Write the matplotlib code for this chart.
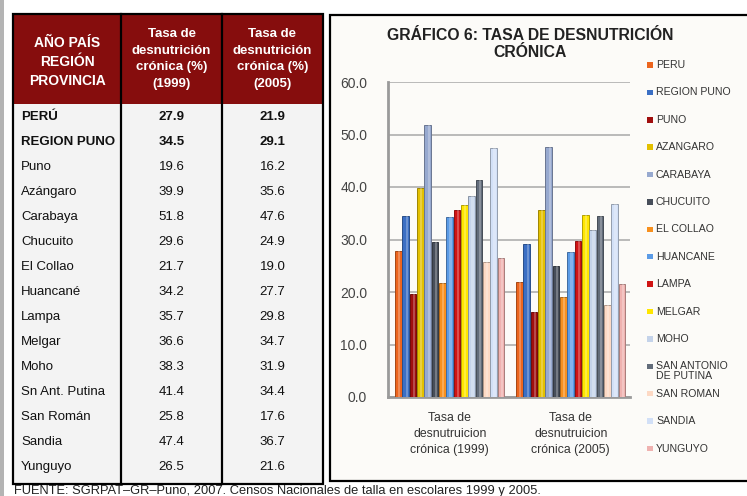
import numpy as np
import matplotlib
matplotlib.use("Agg")
from matplotlib import pyplot as plt
from matplotlib.patches import Rectangle
from matplotlib.colors import to_rgb

# data
regions_table = ["PERÚ", "REGION PUNO", "Puno", "Azángaro", "Carabaya", "Chucuito",
                 "El Collao", "Huancané", "Lampa", "Melgar", "Moho", "Sn Ant. Putina",
                 "San Román", "Sandia", "Yunguyo"]
legend_labels = ["PERU", "REGION PUNO", "PUNO", "AZANGARO", "CARABAYA", "CHUCUITO",
                 "EL COLLAO", "HUANCANE", "LAMPA", "MELGAR", "MOHO",
                 "SAN ANTONIO\nDE PUTINA", "SAN ROMAN", "SANDIA", "YUNGUYO"]
rate_1999 = [27.9, 34.5, 19.6, 39.9, 51.8, 29.6, 21.7, 34.2, 35.7, 36.6, 38.3, 41.4, 25.8, 47.4, 26.5]
rate_2005 = [21.9, 29.1, 16.2, 35.6, 47.6, 24.9, 19.0, 27.7, 29.8, 34.7, 31.9, 34.4, 17.6, 36.7, 21.6]
groups = ["Tasa de\ndesnutruicion\ncrónica (1999)", "Tasa de\ndesnutruicion\ncrónica (2005)"]
headers = ["AÑO PAÍS\nREGIÓN\nPROVINCIA", "Tasa de\ndesnutrición\ncrónica (%)\n(1999)",
           "Tasa de\ndesnutrición\ncrónica (%)\n(2005)"]
colors = ["#EC651E", "#3B6FC4", "#A00E0E", "#E3C000", "#97A9CF", "#474E5A", "#F7901E",
          "#5B9BE6", "#D01414", "#FFE600", "#C4D3EA", "#626C7A", "#FDD9C4", "#D2E0F7", "#EFB2B0"]

plt.rcParams["font.family"] = ["Liberation Sans", "DejaVu Sans"]

W, H = 747, 496
fig = plt.figure(figsize=(W / 100, H / 100), dpi=100)
fig.patch.set_facecolor("white")

# full-figure overlay in pixel coordinates
bg = fig.add_axes([0, 0, 1, 1])
bg.set_xlim(0, W)
bg.set_ylim(H, 0)
bg.axis("off")

bg.add_patch(Rectangle((0, 0), 4, H, facecolor="#b4b4b4", edgecolor="none"))

# ---- table ----
tx0, tx1, tx2, tx3 = 13, 121, 222, 323
ty0, thead, ty1 = 14, 104, 484
bg.add_patch(Rectangle((tx0, ty0), tx3 - tx0, ty1 - ty0, facecolor="#f3f3f3", edgecolor="none"))
bg.add_patch(Rectangle((tx0, ty0), tx3 - tx0, thead - ty0, facecolor="#860d0d", edgecolor="none"))
bg.add_patch(Rectangle((tx0, ty0), tx3 - tx0, ty1 - ty0, facecolor="none", edgecolor="black", lw=1.6))
for xv in (tx1, tx2):
    bg.plot([xv, xv], [ty0, ty1], color="black", lw=1.6)

bg.text((tx0 + tx1) / 2, 62, headers[0], ha="center", va="center", color="white",
        fontsize=10, fontweight="bold", linespacing=1.45)
for xc, h in zip([(tx1 + tx2) / 2, (tx2 + tx3) / 2], headers[1:]):
    bg.text(xc, 59, h, ha="center", va="center", color="white",
            fontsize=9.5, fontweight="bold", linespacing=1.5)

for i, (name, a, b) in enumerate(zip(regions_table, rate_1999, rate_2005)):
    y = 117 + i * 25
    fw = "bold" if i < 2 else "normal"
    bg.text(21, y, name, ha="left", va="center", fontsize=9.5, fontweight=fw, color="#111111")
    bg.text((tx1 + tx2) / 2, y, f"{a:.1f}", ha="center", va="center", fontsize=9.5,
            fontweight=fw, color="#111111")
    bg.text((tx2 + tx3) / 2, y, f"{b:.1f}", ha="center", va="center", fontsize=9.5,
            fontweight=fw, color="#111111")

bg.text(14, 491, "FUENTE: SGRPAT–GR–Puno, 2007. Censos Nacionales de talla en escolares 1999 y 2005.",
        ha="left", va="center", fontsize=9.3, color="#222222")

# ---- chart box ----
bg.add_patch(Rectangle((330, 15), 440, 466, facecolor="#fcfbf8", edgecolor="black", lw=1.6))
bg.text(530, 44, "GRÁFICO 6: TASA DE DESNUTRICIÓN\nCRÓNICA", ha="center", va="center",
        fontsize=11.3, fontweight="bold", color="#222222", linespacing=1.15)

# legend
for i, (lab, c) in enumerate(zip(legend_labels, colors)):
    yc = 65 + i * 27.4
    bg.add_patch(Rectangle((647, yc - 2.8), 5.5, 5.5, facecolor=c, edgecolor="none"))
    if "\n" in lab:
        bg.text(656, yc - 5.5, lab, ha="left", va="top", fontsize=7.6, color="#333333",
                linespacing=1.05)
    else:
        bg.text(656, yc, lab, ha="left", va="center", fontsize=7.6, color="#333333")

# ---- bar chart ----
ax = fig.add_axes([388 / W, 1 - 397 / H, 242 / W, 315 / H])
ax.set_facecolor("none")
ax.set_xlim(-0.51, 1.49)
ax.set_ylim(0, 60)

x = np.arange(len(groups))
n = len(colors)
w = 0.0605
for i, c in enumerate(colors):
    vals = [rate_1999[i], rate_2005[i]]
    pos = x + (i - (n - 1) / 2) * w
    dark = tuple(v * 0.7 for v in to_rgb(c))
    ax.bar(pos, vals, width=w * 0.92, color=c, edgecolor=dark, linewidth=0.7, zorder=3)
    # soft highlight for the cylinder look
    ax.bar(pos + w * 0.12, vals, width=w * 0.3, color="white", alpha=0.25,
           linewidth=0, zorder=4)

ax.set_yticks(np.arange(0, 61, 10))
ax.set_yticklabels([f"{v:.1f}" for v in np.arange(0, 61, 10)])
ax.set_xticks(x)
ax.set_xticklabels(groups, linespacing=1.45)
ax.tick_params(axis="y", length=0, pad=15, labelsize=10, labelcolor="#444444")
ax.tick_params(axis="x", length=0, pad=11, labelsize=8.8, labelcolor="#333333")
ax.grid(axis="y", color="#a8a8a8", lw=1.1, zorder=0)
for s in ("top", "right"):
    ax.spines[s].set_visible(False)
ax.spines["left"].set_color("#9a9a9a")
ax.spines["left"].set_linewidth(2)
ax.spines["bottom"].set_color("#9a9a9a")
ax.spines["bottom"].set_linewidth(2)

fig.savefig("out.png", dpi=100)
